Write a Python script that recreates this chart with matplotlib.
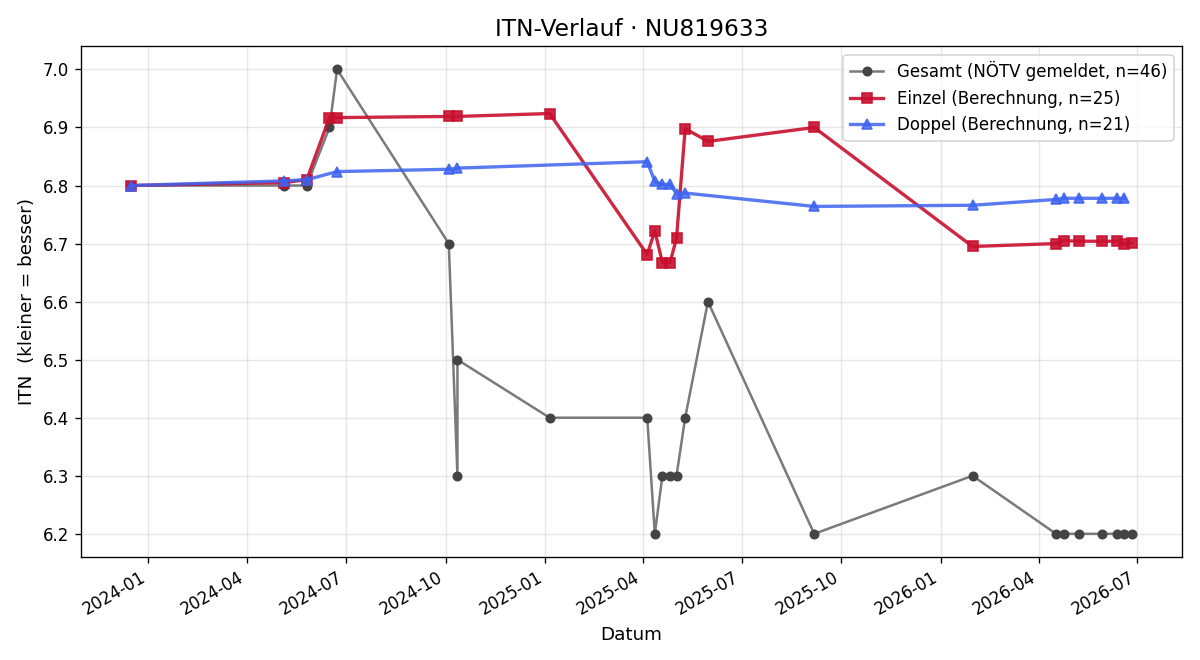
import pandas as pd
import matplotlib
matplotlib.use("Agg")
import matplotlib.pyplot as plt
import matplotlib.dates as mdates

# Gesamt (NÖTV gemeldet)
gesamt_dates = ["2023-12-16", "2024-05-05", "2024-05-26", "2024-06-16", "2024-06-23",
                "2024-10-04", "2024-10-12", "2024-10-12", "2025-01-05", "2025-04-05",
                "2025-04-12", "2025-04-19", "2025-04-26", "2025-05-02", "2025-05-10",
                "2025-05-31", "2025-09-06", "2026-01-30", "2026-04-17", "2026-04-24",
                "2026-05-08", "2026-05-29", "2026-06-12", "2026-06-19", "2026-06-26"]
gesamt_itn = [6.8, 6.8, 6.8, 6.9, 7.0,
              6.7, 6.3, 6.5, 6.4, 6.4,
              6.2, 6.3, 6.3, 6.3, 6.4,
              6.6, 6.2, 6.3, 6.2, 6.2,
              6.2, 6.2, 6.2, 6.2, 6.2]

# Einzel (Berechnung)
einzel_dates = ["2023-12-16", "2024-05-05", "2024-05-26", "2024-06-16", "2024-06-23",
                "2024-10-04", "2024-10-12", "2025-01-05", "2025-04-05", "2025-04-12",
                "2025-04-19", "2025-04-26", "2025-05-02", "2025-05-10", "2025-05-31",
                "2025-09-06", "2026-01-30", "2026-04-17", "2026-04-24", "2026-05-08",
                "2026-05-29", "2026-06-12", "2026-06-19", "2026-06-26"]
einzel_itn = [6.800, 6.805, 6.810, 6.917, 6.917,
              6.919, 6.919, 6.924, 6.681, 6.722,
              6.667, 6.667, 6.709, 6.898, 6.876,
              6.900, 6.695, 6.700, 6.705, 6.704,
              6.704, 6.704, 6.699, 6.701]

# Doppel (Berechnung)
doppel_dates = ["2023-12-16", "2024-05-05", "2024-05-26", "2024-06-23", "2024-10-04",
                "2024-10-12", "2025-04-05", "2025-04-12", "2025-04-19", "2025-04-26",
                "2025-05-02", "2025-05-10", "2025-09-06", "2026-01-30", "2026-04-17",
                "2026-04-24", "2026-05-08", "2026-05-29", "2026-06-12", "2026-06-19"]
doppel_itn = [6.800, 6.808, 6.810, 6.824, 6.828,
              6.830, 6.841, 6.807, 6.802, 6.802,
              6.786, 6.787, 6.764, 6.766, 6.776,
              6.778, 6.778, 6.778, 6.778, 6.778]

fig, ax = plt.subplots(figsize=(10, 5.5), dpi=120)

ax.plot(pd.to_datetime(gesamt_dates), gesamt_itn, color="#7a7a7a", linewidth=1.5,
        marker="o", markersize=5, markerfacecolor="#444444", markeredgecolor="#444444",
        label="Gesamt (NÖTV gemeldet, n=46)")
ax.plot(pd.to_datetime(einzel_dates), einzel_itn, color="#c8102e", alpha=0.9,
        linewidth=2, marker="s", markersize=6,
        label="Einzel (Berechnung, n=25)")
ax.plot(pd.to_datetime(doppel_dates), doppel_itn, color="#3d63f0", alpha=0.85,
        linewidth=2, marker="^", markersize=6,
        label="Doppel (Berechnung, n=21)")

ax.set_title("ITN-Verlauf · NU819633", fontsize=14)
ax.set_xlabel("Datum", fontsize=11)
ax.set_ylabel("ITN  (kleiner = besser)", fontsize=11)
ax.grid(True, alpha=0.3)
ax.legend(loc="upper right")

ax.xaxis.set_major_locator(mdates.MonthLocator(bymonth=[1, 4, 7, 10]))
ax.xaxis.set_major_formatter(mdates.DateFormatter("%Y-%m"))
fig.autofmt_xdate()

fig.subplots_adjust(left=0.0675, right=0.985, top=0.93, bottom=0.156)
fig.savefig("out.png")
